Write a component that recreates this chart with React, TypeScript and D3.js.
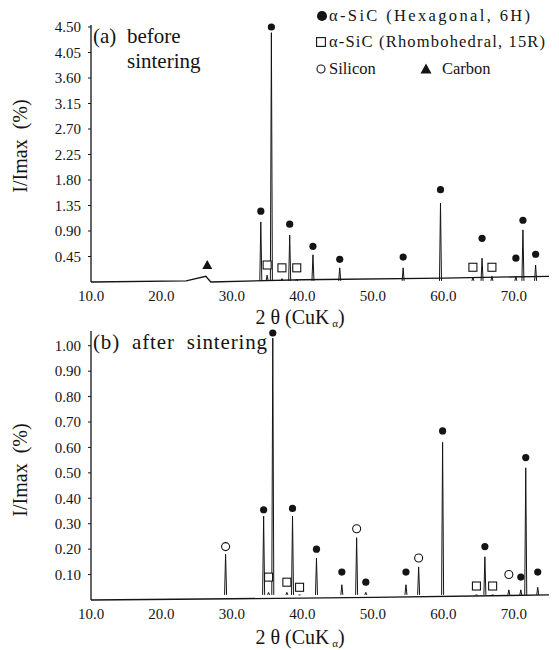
import React from 'react';
import * as d3 from 'd3';

// x axis (2 theta, degrees)
const xTicks = [10, 20, 30, 40, 50, 60, 70];

// (a) before sintering
const topYTicks = [0.45, 0.9, 1.35, 1.8, 2.25, 2.7, 3.15, 3.6, 4.05, 4.5];
const topAngles = [26.5, 34.1, 35.0, 35.6, 37.1, 38.2, 39.2, 41.5, 45.3, 54.3, 59.6, 64.2, 65.5, 66.9, 70.3, 71.3, 73.1];
const topPhases = ['C', 'H', 'R', 'H', 'R', 'H', 'R', 'H', 'H', 'H', 'H', 'R', 'H', 'R', 'H', 'H', 'H'];
const topMarks = [0.30, 1.25, 0.30, 4.50, 0.25, 1.02, 0.25, 0.63, 0.40, 0.44, 1.63, 0.26, 0.77, 0.26, 0.42, 1.09, 0.49];
const topPeaks = [0, 1.06, 0.12, 4.4, 0.06, 0.83, 0.05, 0.48, 0.25, 0.25, 1.39, 0.08, 0.42, 0.1, 0.1, 0.92, 0.3];
const topBaseX = [10, 23.5, 26.3, 27, 40, 60, 75];
const topBaseY = [0.0, 0.02, 0.1, 0.0, 0.04, 0.07, 0.1];

// (b) after sintering
const bottomYTicks = [0.1, 0.2, 0.3, 0.4, 0.5, 0.6, 0.7, 0.8, 0.9, 1.0];
const bottomAngles = [29.1, 34.5, 35.2, 35.8, 37.8, 38.6, 39.6, 42.0, 45.6, 47.7, 49.0, 54.7, 56.5, 59.9, 64.7, 65.9, 67.0, 69.3, 71.0, 71.7, 73.4];
const bottomPhases = ['S', 'H', 'R', 'H', 'R', 'H', 'R', 'H', 'H', 'S', 'H', 'H', 'S', 'H', 'R', 'H', 'R', 'S', 'H', 'H', 'H'];
const bottomMarks = [0.21, 0.355, 0.09, 1.05, 0.07, 0.36, 0.05, 0.20, 0.11, 0.28, 0.07, 0.11, 0.165, 0.665, 0.055, 0.21, 0.055, 0.10, 0.09, 0.56, 0.11];
const bottomPeaks = [0.18, 0.33, 0.03, 1.03, 0.03, 0.33, 0.02, 0.165, 0.06, 0.245, 0.03, 0.06, 0.13, 0.62, 0.02, 0.17, 0.02, 0.04, 0.04, 0.52, 0.05];
const bottomBaseX = [10, 30, 50, 75];
const bottomBaseY = [0.0, 0.005, 0.01, 0.02];

const font = '"Liberation Serif", "DejaVu Serif", serif';
const ink = '#141414';
const pre = { whiteSpace: 'pre' as const };

function Marker({ phase, x, y, s = 1 }: { phase: string; x: number; y: number; s?: number }) {
  if (phase === 'H') return <circle cx={x} cy={y} r={3.6 * s} fill={ink} />;
  if (phase === 'R')
    return <rect x={x - 4 * s} y={y - 4 * s} width={8 * s} height={8 * s} fill="white" stroke={ink} strokeWidth={1.1} />;
  if (phase === 'S') return <circle cx={x} cy={y} r={4 * s} fill="white" stroke={ink} strokeWidth={1.1} />;
  return <path d={`M${x - 5 * s},${y + 4 * s}L${x},${y - 5 * s}L${x + 5 * s},${y + 4 * s}Z`} fill={ink} />;
}

function Panel({ y0, y1, ymax, yTicks, angles, phases, marks, peaks, baseX, baseY, label, labelLen, xTitleY, yTitleY }: any) {
  const x = d3.scaleLinear().domain([10, 75]).range([91, 549]);
  const y = d3.scaleLinear().domain([0, ymax]).range([y0, y1]);
  const base = d3.line<number>().x((d) => x(d)).y((d, i) => y(baseY[i]));
  return (
    <g>
      <line x1={x(10)} x2={x(10)} y1={y1 - 2} y2={y0} stroke={ink} strokeWidth={1.3} />
      <path d={base(baseX) || ''} fill="none" stroke={ink} strokeWidth={1.3} />
      {yTicks.map((t: number) => (
        <g key={t}>
          <line x1={x(10) - 3} x2={x(10)} y1={y(t)} y2={y(t)} stroke={ink} strokeWidth={1} />
          <text x={81} y={y(t)} dy="0.35em" textAnchor="end" fontSize={15} fontFamily={font} fill={ink}>
            {t.toFixed(2)}
          </text>
        </g>
      ))}
      {xTicks.map((t) => (
        <text key={t} x={x(t)} y={y0 + 19} textAnchor="middle" fontSize={15} fontFamily={font} fill={ink}>
          {t.toFixed(1)}
        </text>
      ))}
      {angles.map((a: number, i: number) =>
        peaks[i] > 0 ? (
          <path
            key={'p' + i}
            d={`M${x(a) - 1},${y(0.02)}L${x(a)},${y(peaks[i])}L${x(a) + 1},${y(0.02)}`}
            fill="none"
            stroke={ink}
            strokeWidth={1}
          />
        ) : null
      )}
      {angles.map((a: number, i: number) => (
        <Marker key={'m' + i} phase={phases[i]} x={x(a)} y={y(marks[i])} />
      ))}
      {label.map((l: string, i: number) => (
        <text
          key={l}
          x={i === 0 ? 93 : 127}
          y={y1 + 16 + (i > 1 ? 25 : 0)}
          fontSize={21}
          fontFamily={font}
          fill={ink}
          style={pre}
          textLength={labelLen[i] || undefined}
          lengthAdjust="spacing"
        >
          {l}
        </text>
      ))}
      <text x={300} y={xTitleY} textAnchor="middle" fontSize={20} fontFamily={font} fill={ink} style={pre}>
        2 θ (CuK<tspan fontSize={11} dy={3}> α</tspan>
        <tspan dy={-3}>)</tspan>
      </text>
      <text
        transform={`translate(27,${yTitleY}) rotate(-90)`}
        textAnchor="middle"
        fontSize={20}
        fontFamily={font}
        fill={ink}
        style={pre}
      >
        I/Imax  (%)
      </text>
    </g>
  );
}

export default function App() {
  return (
    <svg width={559} height={650} style={{ position: 'absolute', left: 0, top: 0, background: 'white' }}>
      <rect width={559} height={650} fill="white" />
      <Panel
        y0={282}
        y1={27}
        ymax={4.5}
        yTicks={topYTicks}
        angles={topAngles}
        phases={topPhases}
        marks={topMarks}
        peaks={topPeaks}
        baseX={topBaseX}
        baseY={topBaseY}
        label={['(a)', 'before', 'sintering']}
        labelLen={[0, 0, 0]}
        xTitleY={324}
        yTitleY={146}
      />
      <Panel
        y0={600}
        y1={333}
        ymax={1.05}
        yTicks={bottomYTicks}
        angles={bottomAngles}
        phases={bottomPhases}
        marks={bottomMarks}
        peaks={bottomPeaks}
        baseX={bottomBaseX}
        baseY={bottomBaseY}
        label={['(b)  after  sintering']}
        labelLen={[174]}
        xTitleY={644}
        yTitleY={470}
      />
      <g fontFamily={font} fontSize={16.5} fill={ink} style={pre}>
        <Marker phase="H" x={322} y={16} s={1.4} />
        <text x={329} y={21} textLength={201} lengthAdjust="spacing">α-SiC  (Hexagonal,  6H)</text>
        <Marker phase="R" x={321} y={42} s={1.1} />
        <text x={329} y={47} textLength={216} lengthAdjust="spacing">α-SiC  (Rhombohedral,  15R)</text>
        <Marker phase="S" x={321} y={69} s={1} />
        <text x={329} y={74}>Silicon</text>
        <Marker phase="C" x={426} y={69} s={1.1} />
        <text x={442} y={74}>Carbon</text>
      </g>
    </svg>
  );
}
